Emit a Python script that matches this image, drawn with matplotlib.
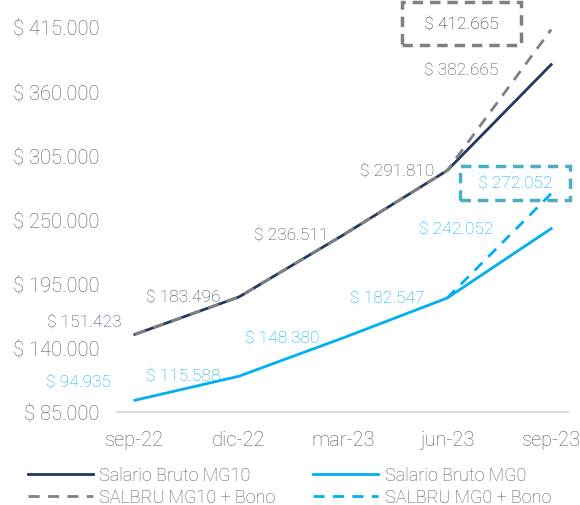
import numpy as np
import matplotlib
matplotlib.use("Agg")
import matplotlib.pyplot as plt

plt.rcParams['font.family'] = ['Roboto', 'DejaVu Sans']
plt.rcParams['font.weight'] = 'light'

# datos
meses = ['sep-22', 'dic-22', 'mar-23', 'jun-23', 'sep-23']
mg10 = [151423, 183496, 236511, 291810, 382665]
mg0 = [94935, 115588, 148380, 182547, 242052]
mg10_bono = [151423, 183496, 236511, 291810, 412665]
mg0_bono = [None, None, None, 182547, 272052]
yticks = [85000, 140000, 195000, 250000, 305000, 360000, 415000]

def fmt(v):
    return '$ ' + f'{v:,}'.replace(',', '.')

navy = '#1F3864'
azul = '#00B0F0'
gris = '#808080'
txt_navy = '#3A4B68'
txt_gris = '#595959'

fig = plt.figure(figsize=(5.8, 5.06), dpi=100)
ax = fig.add_axes([0.202, 0.184, 0.777, 0.761])
x = np.arange(len(meses))

ax.plot(x, mg10, color=navy, lw=2, label='Salario Bruto MG10', zorder=3)
ax.plot(x, mg10_bono, color=gris, lw=2, ls=(0, (4, 3)), label='SALBRU MG10 + Bono', zorder=4)
ax.plot(x, mg0, color=azul, lw=2, label='Salario Bruto MG0', zorder=3)
xb = [i for i, v in enumerate(mg0_bono) if v is not None]
yb = [v for v in mg0_bono if v is not None]
ax.plot(xb, yb, color=azul, lw=2, ls=(0, (4, 3)), label='SALBRU MG0 + Bono', zorder=4)

ax.set_xlim(-0.17, 4.16)
ax.set_ylim(85000, 415000)
ax.set_yticks(yticks)
ax.set_yticklabels([fmt(v) for v in yticks])
ax.set_xticks(x)
ax.set_xticklabels(meses)
ax.tick_params(length=0, labelsize=14.5, colors=txt_gris)
ax.tick_params(axis='y', pad=13)
ax.tick_params(axis='x', pad=13)
for s in ['top', 'right', 'left']:
    ax.spines[s].set_visible(False)
ax.spines['bottom'].set_color('#D9D9D9')
ax.spines['bottom'].set_linewidth(1.5)

# etiquetas (desplazamiento en pixeles)
off10 = [(-51, 12), (-56, 0), (-52, 0), (-50, 0), (-90, -5)]
off0 = [(-56, 18), (-56, 0), (-61, 0), (-60, 0), (-95, 0)]
for i, v in enumerate(mg10):
    dx, dy = off10[i]
    ax.annotate(fmt(v), (i, v), xytext=(dx * 0.72, dy * 0.72), textcoords='offset points',
                ha='center', va='center', fontsize=12.5, color=txt_navy)
for i, v in enumerate(mg0):
    dx, dy = off0[i]
    ax.annotate(fmt(v), (i, v), xytext=(dx * 0.72, dy * 0.72), textcoords='offset points',
                ha='center', va='center', fontsize=12.5, color=azul)

ax.annotate('  ' + fmt(mg10_bono[4]) + '  ', (4, mg10_bono[4]), xytext=(-90 * 0.72, 6 * 0.72),
            textcoords='offset points', ha='center', va='center', fontsize=12.5, color='#262626',
            bbox=dict(boxstyle='square,pad=0.8', fc='white', ec=gris, lw=2.5, ls=(0, (3, 2))),
            annotation_clip=False)
ax.annotate('  ' + fmt(mg0_bono[4]) + '  ', (4, mg0_bono[4]), xytext=(-36 * 0.72, 11 * 0.72),
            textcoords='offset points', ha='center', va='center', fontsize=12.5, color=azul,
            bbox=dict(boxstyle='square,pad=0.55', fc='white', ec='#4BACC6', lw=2.5, ls=(0, (3, 2))),
            annotation_clip=False)

leg = fig.legend(loc='lower left', bbox_to_anchor=(0.02, -0.034), ncol=2, frameon=False,
                 fontsize=13, handlelength=3.6, columnspacing=2.1, labelspacing=0.2,
                 handletextpad=0.35, labelcolor=txt_gris)

fig.savefig('out.png', dpi=100)
